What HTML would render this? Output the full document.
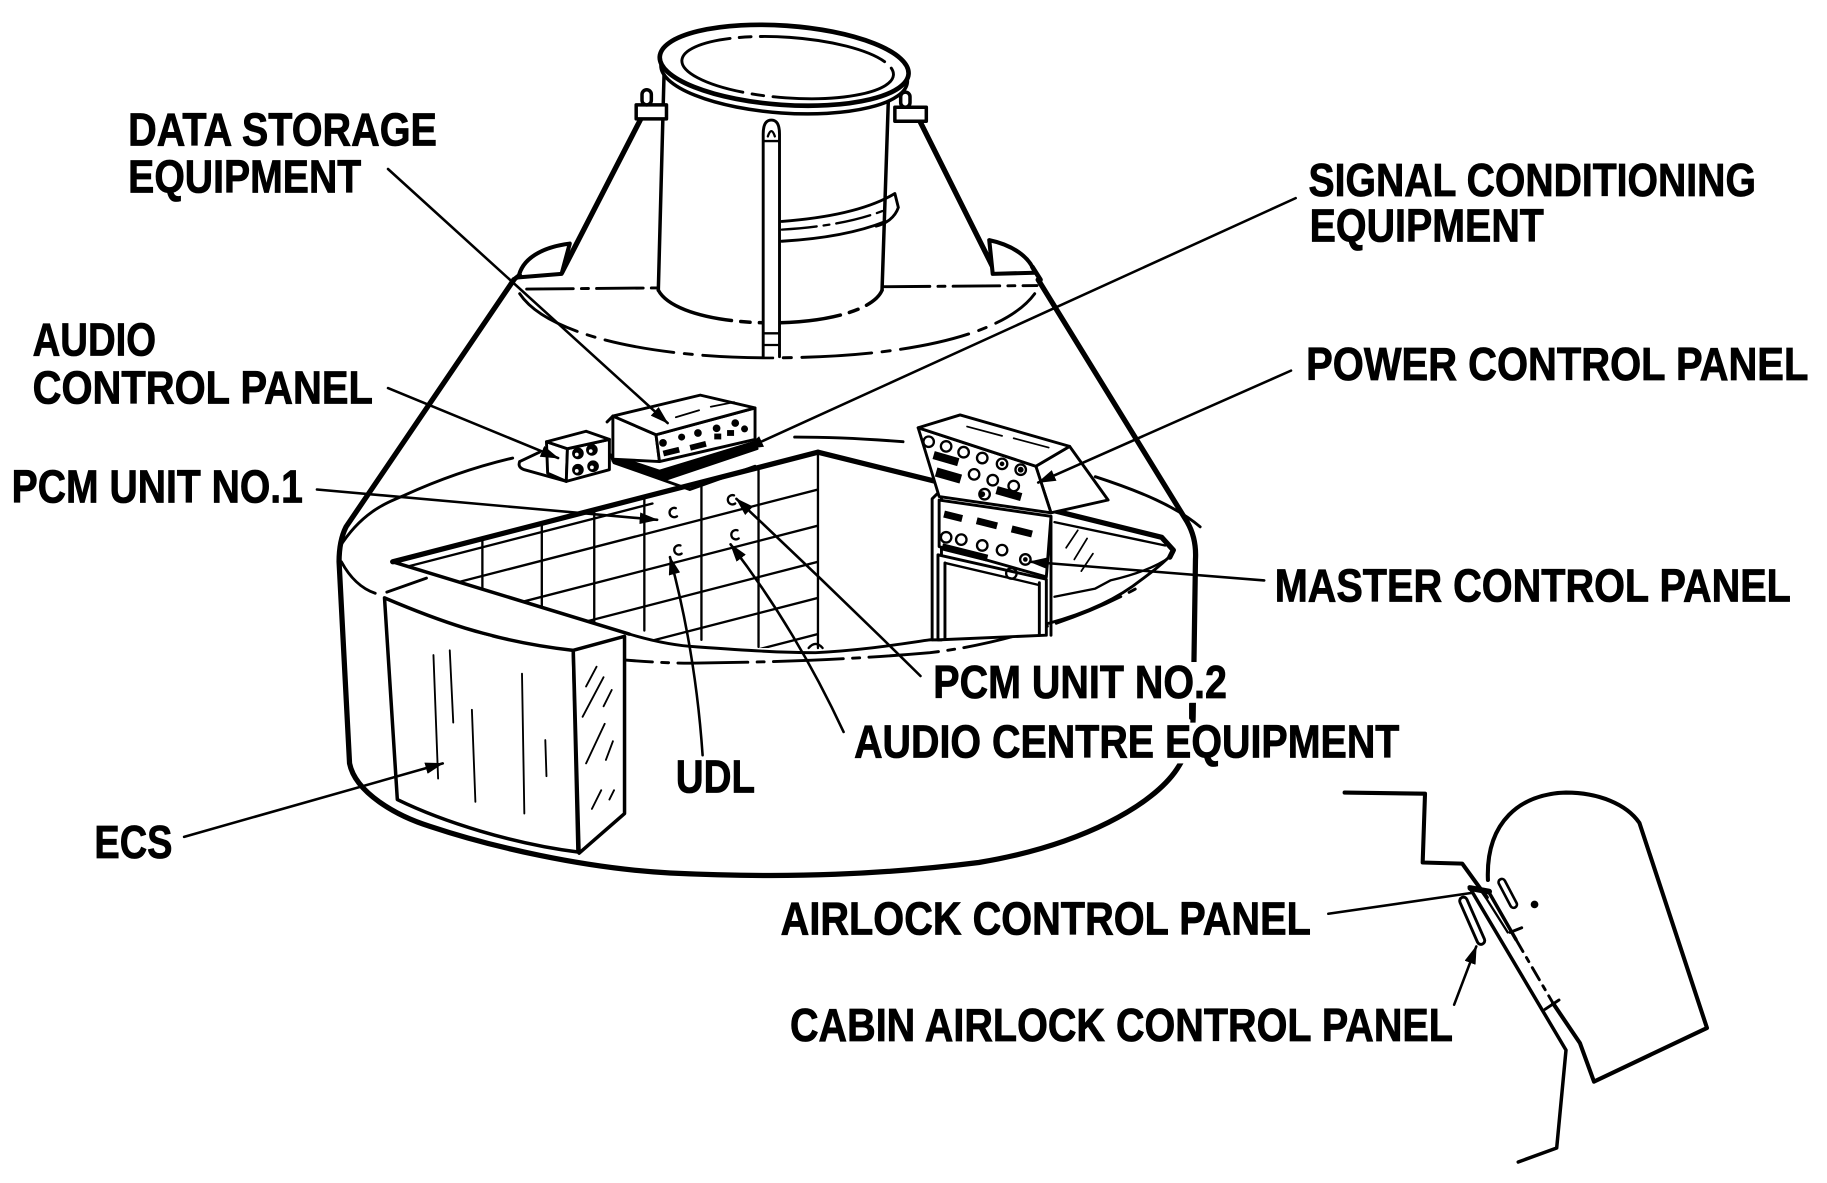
<!DOCTYPE html>
<html><head><meta charset="utf-8">
<style>
html,body{margin:0;padding:0;background:#fff;}
svg{display:block;}
text{font-family:"Liberation Sans",Arial,sans-serif;font-weight:bold;font-size:40px;fill:#000;stroke:#000;stroke-width:0.7px;}
</style></head><body>
<svg width="1827" height="1183" viewBox="0 0 1568 1015" preserveAspectRatio="none" xmlns="http://www.w3.org/2000/svg">
<defs>
<marker id="ah" markerUnits="userSpaceOnUse" markerWidth="16" markerHeight="10" refX="15" refY="5" orient="auto"><path d="M0,0 L16,5 L0,10 Z" fill="#000"/></marker>
<clipPath id="wallL"><polygon points="337,482 702,388 702,556 578,556"/></clipPath>
</defs>
<rect width="1568" height="1015" fill="#fff"/>

<g fill="none" stroke="#000" stroke-linecap="round" stroke-linejoin="round">
<!-- ===== TOP SECTION ===== -->
<path d="M551,100 L482,234" stroke-width="4.5"/>
<path d="M789,103 L852,229" stroke-width="4.5"/>
<path d="M445,238 C448,222 465,212 489,209 L482,235 Z" stroke-width="3.5" fill="#fff"/>
<path d="M441,240 L446,236" stroke-width="4"/>
<path d="M849,206 C868,210 884,220 888,234 L852,235 Z" stroke-width="3.5" fill="#fff"/>
<path d="M886,229 L893,240" stroke-width="4"/>
<path d="M452,248 L568,247" stroke-width="2.5" stroke-dasharray="40 7 6 7"/>
<path d="M758,246 L890,245" stroke-width="2.5" stroke-dasharray="40 7 6 7"/>
<path d="M446,252 C470,288 560,307 661,307 C770,307 860,290 888,252" stroke-width="2.5" stroke-dasharray="60 9 7 9"/>
<!-- cylinder -->
<path d="M570,60 L565,249" stroke-width="3"/>
<path d="M763,68 L757,249" stroke-width="3"/>
<path d="M565,249 C575,268 620,277 661,277 C710,277 750,266 757,249" stroke-width="3" stroke-dasharray="70 8 8 8"/>
<!-- band -->
<path d="M671,190 C710,187 745,180 768,166 L771,178 C768,187 760,192 752,194" stroke-width="2.5"/>
<path d="M671,197 C705,195 735,190 760,180" stroke-width="2" stroke-dasharray="30 6 5 6"/>
<path d="M671,207 C705,205 735,200 760,190" stroke-width="2.5"/>
<!-- rod -->
<path d="M655,306 L655,115 Q655,103 662,103 Q669,103 669,115 L669,306" stroke-width="2.5" fill="#fff"/>
<path d="M659,117 Q662,108 665,117" stroke-width="2"/>
<path d="M655,121 L669,121 M655,286 L669,286 M655,296 L669,296" stroke-width="2"/>
<!-- brackets -->
<rect x="546" y="90" width="26" height="12" stroke-width="3" fill="#fff"/>
<rect x="551" y="77" width="8" height="13" rx="4" stroke-width="3" fill="#fff"/>
<rect x="768" y="92" width="27" height="12" stroke-width="3" fill="#fff"/>
<rect x="773" y="79" width="8" height="13" rx="4" stroke-width="3" fill="#fff"/>
<!-- rim -->
<ellipse cx="673" cy="63" rx="106" ry="34" transform="rotate(4 673 63)" stroke-width="3" fill="#fff"/>
<ellipse cx="673" cy="56" rx="107" ry="34" transform="rotate(4 673 56)" stroke-width="4" fill="#fff"/>
<ellipse cx="676" cy="58" rx="91" ry="26" transform="rotate(4 676 58)" stroke-width="2.5" stroke-dasharray="110 8 10 8"/>

<!-- ===== BASE OUTLINE ===== -->
<path d="M441,240 L297,452 Q291,464 291,482 L300,655 C305,680 340,700 369,709 C420,726 500,745 575,749 C680,754 760,750 840,740 C930,725 990,690 1010,660 C1020,645 1024,630 1024,615 L1026,480 Q1027,462 1019,448 L891,240" stroke-width="4.5"/>
<!-- top rim -->
<path d="M291,470 C310,440 330,432 347,425 C380,410 410,400 440,393" stroke-width="2.5"/>
<path d="M682,375 C720,375 750,377 775,379" stroke-width="2.5"/>
<path d="M940,409 C980,422 1010,435 1030,452" stroke-width="2.5"/>
<!-- left rim near ECS -->
<path d="M293,482 C300,495 310,505 322,509" stroke-width="2.5"/>
<path d="M332,508 L366,496" stroke-width="2.5"/>
<!-- inner rim (upper solid) -->
<path d="M540,544 C560,550 580,554 598,555 C640,558 670,560 700,560 C740,558 770,553 798,549 C840,545 865,542 887,538 C930,528 955,515 972,503 C990,490 1000,482 1007,474" stroke-width="2.5"/>
<!-- outer front rim (dashed) -->
<path d="M500,563 C540,567 570,569 592,569 C680,568 740,565 798,560 C860,553 930,530 975,505" stroke-width="2.5" stroke-dasharray="60 8 6 8"/>

<!-- ===== OPENING / BACK WALL ===== -->
<g clip-path="url(#wallL)" stroke-width="2">
<path d="M414,460 L414,505 M465,448 L465,520 M510,436 L510,538 M553,425 L553,541 M602,413 L602,549 M651,400 L651,555"/>
<path d="M337,514 L702,420"/>
<path d="M337,545 L702,451"/>
<path d="M337,576 L702,482"/>
<path d="M337,607 L702,513"/>
<path d="M337,638 L702,544"/>
</g>
<path d="M337,482 L702,388" stroke-width="4.5"/>
<path d="M350,486 L560,432" stroke-width="2"/>
<path d="M337,482 L540,544" stroke-width="3"/>
<path d="M702,388 L702,556" stroke-width="2"/>
<path d="M694,556 Q700,549 706,556" stroke-width="2"/>
<path d="M702,388 L997,461 L1007,472 L1004,478" stroke-width="4.5"/>
<path d="M905,448 L1000,468" stroke-width="2"/>
<path d="M1004,478 C990,488 970,494 953,498 L940,505 L905,512" stroke-width="2"/>
<path d="M915,470 L925,455 M922,480 L933,462 M928,490 L938,475" stroke-width="1.5"/>
<!-- PCM c marks -->
<g stroke-width="2">
<path d="M580,436 A4,4 0 1,0 581,443"/>
<path d="M630,425 A4,4 0 1,0 631,432"/>
<path d="M584,468 A4,4 0 1,0 585,475"/>
<path d="M633,455 A4,4 0 1,0 634,462"/>
</g>

<!-- ===== DATA STORAGE / SIGNAL COND ===== -->
<polygon points="524,390 566,404 648,379 650,385 570,412 526,396" fill="#000" stroke-width="2"/>
<path d="M527,397 L592,420 L648,400" stroke-width="2.5"/>
<polygon points="526,357 563,373 566,396 526,394" fill="#fff" stroke-width="2.5"/>
<polygon points="563,373 648,350 648,377 566,396" fill="#fff" stroke-width="2.5"/>
<polygon points="526,357 601,339 648,350 563,373" fill="#fff" stroke-width="2.5"/>
<path d="M521,362 L526,357" stroke-width="2.5"/>
<path d="M580,358 L600,352 M610,349 L630,345" stroke-width="1.5"/>
<g fill="#000" stroke="none">
<circle cx="569" cy="380" r="3.3"/><circle cx="585" cy="375" r="3"/><circle cx="599" cy="371.5" r="3.3"/><circle cx="615" cy="367.5" r="3.3"/><circle cx="631" cy="363" r="3.3"/>
<rect x="569" y="385" width="14" height="5" transform="rotate(-14 576 387)"/>
<rect x="592" y="380" width="14" height="5" transform="rotate(-14 599 382)"/>
<rect x="613" y="372" width="6" height="5"/><rect x="624" y="369" width="6" height="5"/><circle cx="639" cy="368" r="3"/>
</g>
<!-- ===== AUDIO CONTROL CUBE ===== -->
<path d="M446,396 L463,388 M446,396 Q444,401 450,403 L486,413" stroke-width="2.5"/>
<polygon points="469,379 487,385 486,413 470,406" fill="#fff" stroke-width="2.5"/>
<polygon points="487,385 523,377 523,403 486,413" fill="#fff" stroke-width="2.5"/>
<polygon points="469,379 503,370 523,377 487,385" fill="#fff" stroke-width="2.5"/>
<g stroke-width="2" fill="#000">
<circle cx="496" cy="389" r="4"/><circle cx="508" cy="386" r="4"/><circle cx="496" cy="403" r="4"/><circle cx="509" cy="400" r="4"/>
</g>
<g fill="#fff" stroke="none"><circle cx="495" cy="390" r="1.6"/><circle cx="507" cy="387" r="1.6"/><circle cx="495" cy="404" r="1.6"/><circle cx="508" cy="401" r="1.6"/></g>

<!-- ===== POWER / MASTER PANEL ===== -->
<polygon points="889,400 918,383 951,429 902,440" fill="#fff" stroke-width="2.5"/>
<polygon points="800,428 808,420 808,549 800,549" fill="#fff" stroke-width="2.5"/>
<polygon points="805,476 898,497 898,545 805,549" fill="#fff" stroke-width="2.5"/>
<path d="M811,483 L811,548 M892,500 L892,545 M902,443 L902,545" stroke-width="2.5"/>
<path d="M811,483 L892,502" stroke-width="2"/>
<polygon points="806,429 902,443 898,495 806,469" fill="#fff" stroke-width="2.5"/>
<polygon points="788,367 889,400 902,440 806,426" fill="#fff" stroke-width="2.5"/>
<polygon points="788,367 824,356 918,383 889,400" fill="#fff" stroke-width="2.5"/>
<path d="M830,366 L860,374 M870,376 L900,384" stroke-width="1.5"/>
<g stroke-width="2" fill="none">
<circle cx="797" cy="379" r="4.5"/><circle cx="812" cy="383" r="4.5"/><circle cx="827" cy="388" r="4.5"/><circle cx="843" cy="393" r="4.5"/><circle cx="860" cy="398" r="4.5"/><circle cx="876" cy="403" r="4.5"/>
<circle cx="836" cy="407" r="4.5"/><circle cx="852" cy="412" r="4.5"/><circle cx="870" cy="417" r="4.5"/>
<circle cx="845" cy="424" r="4.5"/>
<circle cx="812" cy="461" r="4.5"/><circle cx="825" cy="463" r="4.5"/><circle cx="843" cy="468" r="4.5"/><circle cx="860" cy="472" r="4.5"/><circle cx="880" cy="480" r="4.5"/><circle cx="868" cy="492" r="4.5"/>
</g>
<g fill="#000" stroke="none">
<rect x="801" y="390" width="22" height="7" transform="rotate(16 812 393)"/>
<rect x="803" y="404" width="22" height="8" transform="rotate(16 814 408)"/>
<rect x="855" y="420" width="22" height="7" transform="rotate(16 866 423)"/>
<rect x="810" y="440" width="16" height="6" transform="rotate(14 818 443)"/>
<rect x="838" y="446" width="18" height="6" transform="rotate(14 847 449)"/>
<rect x="868" y="453" width="18" height="6" transform="rotate(14 877 456)"/>
<rect x="808" y="471" width="40" height="6" transform="rotate(14 828 474)"/>
<circle cx="843" cy="424" r="2.5"/><circle cx="860" cy="398" r="2"/><circle cx="876" cy="403" r="2.5"/><circle cx="880" cy="480" r="2"/>
</g>

<!-- ===== ECS BOX ===== -->
<path d="M330,513 C370,530 420,550 492,558 L496,731 C440,724 380,705 341,686 Z" fill="#fff" stroke-width="3"/>
<polygon points="492,558 536,546 536,698 497,732" fill="#fff" stroke-width="3"/>
<path d="M409,545 L421,548" stroke="#fff" stroke-width="3"/>
<g stroke-width="1.6">
<path d="M372,562 L376,668 M386,558 L389,620 M405,609 L408,688 M448,578 L450,698 M468,635 L469,666"/>
<path d="M503,589 L512,572 M500,615 L518,581 M518,606 L525,592 M503,655 L519,621 M520,652 L526,636 M508,694 L516,678 M523,686 L527,678"/>
</g>

<!-- ===== SMALL TICK ===== -->
<path d="M1022,604 L1022,616" stroke-width="3"/>

<!-- ===== AIRLOCK DETAIL ===== -->
<path d="M1154,680 L1223,681 L1221,740 L1255,741 L1276,770" stroke-width="3.5"/>
<path d="M1277,755 C1275,705 1305,681 1344,680 C1372,680 1396,690 1407,706 L1465,882 L1368,928 L1356,895 L1333,861" stroke-width="3.5" fill="#fff"/>
<path d="M1261,761 L1344,901 L1336,985 L1303,997" stroke-width="3"/>
<path d="M1277,764 L1301,806" stroke-width="3"/>
<path d="M1301,806 L1333,861" stroke-width="2.5" stroke-dasharray="12 6 4 6"/>
<path d="M1296,800 L1306,796 M1326,866 L1338,858" stroke-width="2.5"/>
<path d="M1270,762 L1294,800" stroke-width="2"/>
<path d="M1256,773 L1271,807" stroke-width="9"/>
<path d="M1256,773 L1271,807" stroke="#fff" stroke-width="4"/>
<path d="M1289,757 L1299,776" stroke-width="8"/>
<path d="M1289,757 L1299,776" stroke="#fff" stroke-width="3.5"/>
<path d="M1262,762 L1278,765" stroke-width="5"/>
<circle cx="1317" cy="776" r="2.8" fill="#000" stroke-width="1"/>

<!-- ===== LEADERS ===== -->
<g stroke-width="2.2" marker-end="url(#ah)">
<path d="M333,145 L573,363"/>
<path d="M1112,170 L640,385"/>
<path d="M333,333 L479,393"/>
<path d="M272,420 L564,446"/>
<path d="M1108,318 L891,414"/>
<path d="M1085,498 L884,482"/>
<path d="M790,580 Q712,503 632,428"/>
<path d="M724,628 Q683,540 627,467"/>
<path d="M603,648 Q597,560 575,478"/>
<path d="M158,718 L380,655"/>
<path d="M1248,862 L1267,812"/>
</g>
<path d="M1140,784 L1264,766" stroke-width="2.2"/>
</g>

<!-- ===== LABEL BACKGROUNDS ===== -->
<rect x="797" y="568" width="260" height="35" fill="#fff"/>
<rect x="731" y="620" width="474" height="35" fill="#fff"/>

<!-- ===== LABELS ===== -->
<text x="110" y="125" textLength="265" lengthAdjust="spacingAndGlyphs">DATA STORAGE</text>
<text x="110" y="165" textLength="200" lengthAdjust="spacingAndGlyphs">EQUIPMENT</text>
<text x="1123" y="168" textLength="384" lengthAdjust="spacingAndGlyphs">SIGNAL CONDITIONING</text>
<text x="1124" y="207" textLength="201" lengthAdjust="spacingAndGlyphs">EQUIPMENT</text>
<text x="28" y="305" textLength="106" lengthAdjust="spacingAndGlyphs">AUDIO</text>
<text x="28" y="346" textLength="292" lengthAdjust="spacingAndGlyphs">CONTROL PANEL</text>
<text x="10" y="431" textLength="250" lengthAdjust="spacingAndGlyphs">PCM UNIT NO.1</text>
<text x="1121" y="326" textLength="431" lengthAdjust="spacingAndGlyphs">POWER CONTROL PANEL</text>
<text x="1094" y="516" textLength="443" lengthAdjust="spacingAndGlyphs">MASTER CONTROL PANEL</text>
<text x="801" y="599" textLength="252" lengthAdjust="spacingAndGlyphs">PCM UNIT NO.2</text>
<text x="733" y="650" textLength="468" lengthAdjust="spacingAndGlyphs">AUDIO CENTRE EQUIPMENT</text>
<text x="580" y="680" textLength="68" lengthAdjust="spacingAndGlyphs">UDL</text>
<text x="81" y="736" textLength="67" lengthAdjust="spacingAndGlyphs">ECS</text>
<text x="670" y="802" textLength="455" lengthAdjust="spacingAndGlyphs">AIRLOCK CONTROL PANEL</text>
<text x="678" y="893" textLength="569" lengthAdjust="spacingAndGlyphs">CABIN AIRLOCK CONTROL PANEL</text>
</svg>
</body></html>
